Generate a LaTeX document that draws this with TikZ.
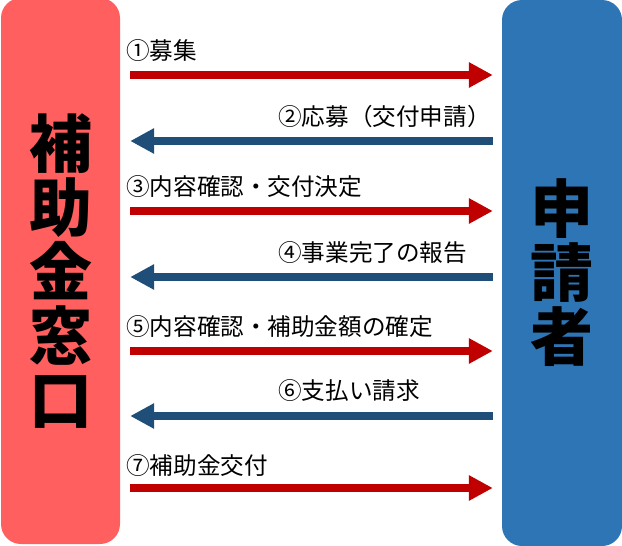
\documentclass[tikz,border=0pt]{standalone}
\usepackage{fontspec}
\newfontfamily\jp{Noto Sans CJK JP}
\usetikzlibrary{arrows.meta}

\definecolor{boxred}{HTML}{FF5F5F}
\definecolor{boxblue}{HTML}{2E75B6}
\definecolor{arrred}{HTML}{C00000}
\definecolor{arrblue}{HTML}{1F4E79}

\tikzset{
  party/.style={rounded corners=20pt, minimum height=546pt, inner sep=0pt,
    align=center, font=\jp\bfseries\fontsize{63}{64}\selectfont},
  link/.style={line width=8pt, shorten <=10pt, shorten >=9pt},
  toright/.style={link, draw=arrred, -{Triangle[length=24pt,width=24pt]}},
  toleft/.style={link, draw=arrblue, {Triangle[length=24pt,width=24pt]}-},
  msg/.style={anchor=west, inner sep=0pt, font=\jp\fontsize{23.6}{25}\selectfont}
}

\begin{document}
\begin{tikzpicture}[x=1pt,y=-1pt]
\useasboundingbox (0,0) rectangle (622,546);

\node [party, fill=boxred, minimum width=119pt] (office) at (60.5,271) {補\\助\\金\\窓\\口};
\node [party, fill=boxblue, minimum width=120pt] (applicant) at (562,273) {申\\請\\者};

\coordinate (r1) at (0,75);
\coordinate (r2) at (0,141);
\coordinate (r3) at (0,211);
\coordinate (r4) at (0,277);
\coordinate (r5) at (0,351);
\coordinate (r6) at (0,416);
\coordinate (r7) at (0,488);

\draw [toright] (office.east |- r1) -- (applicant.west |- r1);
\draw [toleft]  (office.east |- r2) -- (applicant.west |- r2);
\draw [toright] (office.east |- r3) -- (applicant.west |- r3);
\draw [toleft]  (office.east |- r4) -- (applicant.west |- r4);
\draw [toright] (office.east |- r5) -- (applicant.west |- r5);
\draw [toleft]  (office.east |- r6) -- (applicant.west |- r6);
\draw [toright] (office.east |- r7) -- (applicant.west |- r7);

\node [msg] (m1) at (126,51)  {①募集};
\node [msg] (m2) at (278,117) {②応募（交付申請）};
\node [msg] (m3) at (126,187) {③内容確認・交付決定};
\node [msg] (m4) at (278,253) {④事業完了の報告};
\node [msg] (m5) at (126,327) {⑤内容確認・補助金額の確定};
\node [msg] (m6) at (278,391) {⑥支払い請求};
\node [msg] (m7) at (126,466) {⑦補助金交付};
\end{tikzpicture}
\end{document}
